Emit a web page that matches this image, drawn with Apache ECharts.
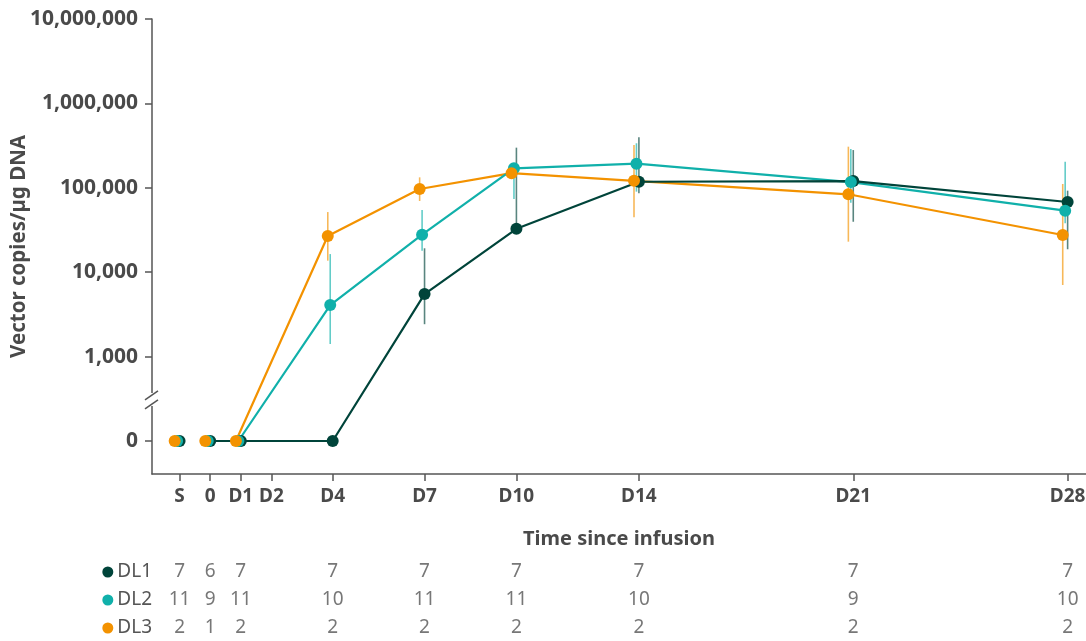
<!DOCTYPE html>
<html>
<head>
<meta charset="utf-8">
<script src="https://cdn.jsdelivr.net/npm/echarts@6/dist/echarts.min.js"></script>
<style>
  html, body { margin: 0; padding: 0; background: #fff; }
  #main { width: 1086px; height: 641px; }
</style>
</head>
<body>
<div id="main"></div>
<script>
// time points (days since infusion, S = screening drawn at -1)
var days = [-1, 0, 1, 4, 7, 10, 14, 21, 28];
var tickDays = [-1, 0, 1, 2, 4, 7, 10, 14, 21, 28];
var tickLabels = ['S', '0', 'D1', 'D2', 'D4', 'D7', 'D10', 'D14', 'D21', 'D28'];

// y ticks (0 is drawn one decade under 1,000, below the axis break)
var yTickValues = [0, 1000, 10000, 100000, 1000000, 10000000];
var yTickLabels = ['0', '1,000', '10,000', '100,000', '1,000,000', '10,000,000'];

var groups = ['DL1', 'DL2', 'DL3'];
var colors = ['#00443a', '#10b0aa', '#f39200'];

// vector copies/µg DNA, with error range
var dl1Mean = [0, 0, 0, 0, 5500, 32700, 118000, 120000, 67900];
var dl1Low  = [null, null, null, null, 2420, 30000, 86100, 39600, 18700];
var dl1High = [null, null, null, null, 19200, 299000, 396000, 280000, 92500];

var dl2Mean = [0, 0, 0, 4080, 27800, 170000, 193000, 117000, 53600];
var dl2Low  = [null, null, null, 1410, 18000, 73600, 90000, 66700, 37900];
var dl2High = [null, null, null, 16400, 54600, 185000, 337000, 288000, 204000];

var dl3Mean = [0, 0, 0, 26800, 96800, 149000, 121000, 83800, 27600];
var dl3Low  = [null, null, null, 13700, 69800, 146000, 44700, 23000, 7050];
var dl3High = [null, null, null, 51600, 133000, 152000, 321000, 307000, 111000];

// number of patients per time point
var dl1N = [7, 6, 7, 7, 7, 7, 7, 7, 7];
var dl2N = [11, 9, 11, 10, 11, 11, 10, 9, 10];
var dl3N = [2, 1, 2, 2, 2, 2, 2, 2, 2];

var means = [dl1Mean, dl2Mean, dl3Mean];
var lows = [dl1Low, dl2Low, dl3Low];
var highs = [dl1High, dl2High, dl3High];
var counts = [dl1N, dl2N, dl3N];
var dodge = [0, -0.08, -0.16];

var ZERO_LOG = 2;    // where "0" sits on the log10 axis
var BREAK_LOG = 2.486;
var X_MIN = -1.9, X_MAX = 28.6;
var FONT = '"Source Sans Pro", "Noto Sans", sans-serif';
var TXT = '#4a4a4a';

function toLog(v) {
	return v === 0 ? ZERO_LOG : Math.log10(v);
}

var series = [];

// lines (dark one on top), screening point not connected
for (var g = 2; g >= 0; g--) {
	var d = [];
	for (var i = 0; i < days.length; i++) {
		d.push([days[i] + dodge[g], toLog(means[g][i])]);
		if (i === 0) d.push([(days[0] + days[1]) / 2, '-']);
	}
	series.push({
		type: 'line',
		name: groups[g],
		data: d,
		showSymbol: false,
		connectNulls: false,
		lineStyle: { color: colors[g], width: 2.2 },
		itemStyle: { color: colors[g] },
		z: 2
	});
}

// error bars
for (var g = 0; g < 3; g++) {
	var eb = [];
	for (var i = 0; i < days.length; i++) {
		if (lows[g][i] == null) continue;
		eb.push([days[i] + dodge[g], Math.log10(lows[g][i]), Math.log10(highs[g][i])]);
	}
	(function(col) {
		series.push({
			type: 'custom',
			data: eb,
			z: 3,
			renderItem: function(params, api) {
				var lo = api.coord([api.value(0), api.value(1)]);
				var hi = api.coord([api.value(0), api.value(2)]);
				return {
					type: 'line',
					shape: { x1: lo[0], y1: lo[1], x2: hi[0], y2: hi[1] },
					style: { stroke: col, lineWidth: 1.6, opacity: 0.65 }
				};
			}
		});
	})(colors[g]);
}

// points (orange on top)
for (var g = 0; g < 3; g++) {
	var pts = [];
	for (var i = 0; i < days.length; i++) {
		pts.push([days[i] + dodge[g], toLog(means[g][i])]);
	}
	series.push({
		type: 'scatter',
		data: pts,
		symbol: 'circle',
		symbolSize: 12,
		itemStyle: { color: colors[g], opacity: 1 },
		z: 4
	});
}

// n table under the chart
for (var g = 0; g < 3; g++) {
	var nd = [];
	for (var i = 0; i < days.length; i++) {
		nd.push([days[i], groups[g], counts[g][i]]);
	}
	series.push({
		type: 'scatter',
		xAxisIndex: 1,
		yAxisIndex: 1,
		data: nd,
		symbolSize: 1,
		itemStyle: { color: 'transparent' },
		label: {
			show: true,
			position: 'inside',
			formatter: function(p) { return p.value[2]; },
			fontFamily: FONT,
			fontSize: 19,
			color: '#555'
		},
		silent: true
	});
}

var chart = echarts.init(document.getElementById('main'));

var option = {
	backgroundColor: '#fff',
	animation: false,
	textStyle: { fontFamily: FONT },
	grid: [
		{ left: 152, right: 0, top: 19, bottom: 167, containLabel: false, outerBoundsMode: 'none' },
		{ left: 152, right: 0, top: 558, height: 84, containLabel: false, outerBoundsMode: 'none' }
	],
	xAxis: [{
		type: 'value',
		gridIndex: 0,
		min: X_MIN,
		max: X_MAX,
		splitLine: { show: false },
		axisLine: { onZero: false, lineStyle: { color: '#555', width: 1.5 } },
		axisTick: { customValues: tickDays, length: 7, lineStyle: { color: '#555', width: 1.5 } },
		axisLabel: {
			customValues: tickDays,
			margin: 13,
			color: TXT,
			fontWeight: 'bold',
			fontSize: 19,
			fontFamily: FONT,
			formatter: function(v) {
				var k = tickDays.indexOf(v);
				return k >= 0 ? tickLabels[k] : '';
			}
		},
		name: 'Time since infusion',
		nameLocation: 'middle',
		nameGap: 55,
		nameTextStyle: { color: TXT, fontWeight: 'bold', fontSize: 20, fontFamily: FONT }
	}, {
		type: 'value',
		gridIndex: 1,
		min: X_MIN,
		max: X_MAX,
		show: false
	}],
	yAxis: [{
		type: 'value',
		gridIndex: 0,
		min: 1.609,
		max: 7,
		splitLine: { show: false },
		axisLine: { show: true, onZero: false, lineStyle: { color: '#555', width: 1.5 } },
		axisTick: { show: true, customValues: yTickValues.map(toLog), length: 7, lineStyle: { color: '#555', width: 1.5 } },
		axisLabel: {
			customValues: yTickValues.map(toLog),
			margin: 14,
			color: TXT,
			fontWeight: 'bold',
			fontSize: 21,
			fontFamily: FONT,
			formatter: function(v) {
				for (var k = 0; k < yTickValues.length; k++) {
					if (Math.abs(toLog(yTickValues[k]) - v) < 1e-6) return yTickLabels[k];
				}
				return '';
			}
		},
		name: 'Vector copies/µg DNA',
		nameLocation: 'middle',
		nameGap: 122,
		nameMoveOverlap: false,
		nameTextStyle: { color: TXT, fontWeight: 'bold', fontSize: 20.5, fontFamily: FONT }
	}, {
		type: 'category',
		gridIndex: 1,
		inverse: true,
		data: groups,
		axisLine: { show: false },
		axisTick: { show: false },
		axisLabel: {
			margin: 0,
			fontFamily: FONT,
			fontSize: 19,
			color: '#555',
			formatter: function(v) {
				return '{d' + groups.indexOf(v) + '|}{t|' + v + '}';
			},
			rich: {
				d0: { width: 11, height: 11, borderRadius: 5.5, backgroundColor: colors[0] },
				d1: { width: 11, height: 11, borderRadius: 5.5, backgroundColor: colors[1] },
				d2: { width: 11, height: 11, borderRadius: 5.5, backgroundColor: colors[2] },
				t: { fontFamily: FONT, fontSize: 19, color: '#555', padding: [0, 0, 0, 4] }
			}
		}
	}],
	series: series
};

chart.setOption(option);

// axis break marks on the y axis
var bp = chart.convertToPixel({ gridIndex: 0 }, [X_MIN, BREAK_LOG]);
var bx = bp[0], by = bp[1];
chart.setOption({
	graphic: [
		{ type: 'rect', shape: { x: bx - 3, y: by - 7, width: 6, height: 13 }, style: { fill: '#fff' }, z: 10 },
		{ type: 'line', shape: { x1: bx - 7, y1: by, x2: bx + 6, y2: by - 9 }, style: { stroke: '#555', lineWidth: 1.5 }, z: 11 },
		{ type: 'line', shape: { x1: bx - 7, y1: by + 9, x2: bx + 6, y2: by }, style: { stroke: '#555', lineWidth: 1.5 }, z: 11 }
	]
});
</script>
</body>
</html>
